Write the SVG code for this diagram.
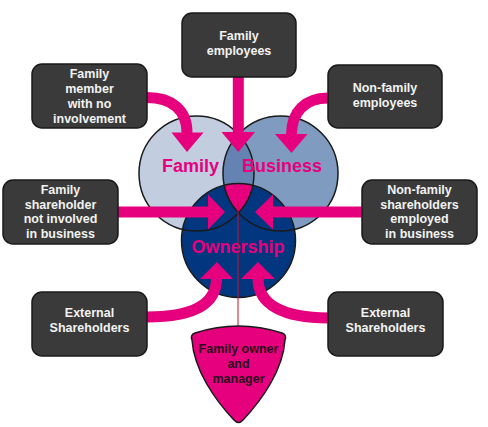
<svg xmlns="http://www.w3.org/2000/svg" width="488" height="427" viewBox="0 0 488 427">
<style>
.box{fill:#3a3a3a;stroke:#1a1a1a;stroke-width:1.5}
.bt{font-family:"Liberation Sans",Arial,sans-serif;font-weight:bold;font-size:12.5px;fill:#f2f2f2;text-anchor:middle}
.ring{fill:none;stroke:#1a1a1a;stroke-width:1.5}
.cl{font-family:"Liberation Sans",Arial,sans-serif;font-weight:bold;font-size:18px;fill:#e6007e;text-anchor:middle}
.band{fill:none;stroke:#e6007e;stroke-width:11}
.head{fill:#e6007e}
</style>
<defs>
<clipPath id="clipF"><circle cx="196.5" cy="173.5" r="57.5"/></clipPath>
<clipPath id="clipB"><circle cx="280.5" cy="173.5" r="57.5"/></clipPath>
</defs>
<rect width="488" height="427" fill="#ffffff"/>
<g id="venn">
<g id="family">
<circle cx="196.5" cy="173.5" r="57.5" fill="#c2cde0"/>
</g>
<g id="business">
<circle cx="280.5" cy="173.5" r="57.5" fill="#7f9bc0"/>
<g clip-path="url(#clipF)"><circle cx="280.5" cy="173.5" r="57.5" fill="#6482b2"/></g>
</g>
<g id="ownership">
<circle cx="238.5" cy="240.5" r="57" fill="#02377f"/>
<g clip-path="url(#clipF)"><g clip-path="url(#clipB)"><circle cx="238.5" cy="240.5" r="57" fill="#e6007e"/></g></g>
</g>
<circle class="ring" cx="196.5" cy="173.5" r="57.5"/>
<circle class="ring" cx="280.5" cy="173.5" r="57.5"/>
<circle class="ring" cx="238.5" cy="240.5" r="57"/>
<text class="cl" x="190.5" y="172">Family</text>
<text class="cl" x="282" y="172">Business</text>
<text class="cl" x="238" y="253.3">Ownership</text>
</g>
<g id="connectors">
<line x1="238" y1="203" x2="238" y2="327" stroke="#c8102e" stroke-width="1"/>
<path class="band" d="M147,97.5 C172,97.5 187,110 187,133"/>
<polygon class="head" points="171.5,132.5 203.5,132.5 187,152"/>
<path class="band" d="M238.3,77 L238.3,133"/>
<polygon class="head" points="221.5,132 255,132 238.3,152"/>
<path class="band" d="M328,98 C305,98 291.5,112 291.5,134.5"/>
<polygon class="head" points="275,134 307.5,134 291.5,153"/>
<path class="band" d="M118,212 L209,212"/>
<polygon class="head" points="208,194.5 208,229.5 225,212"/>
<path class="band" d="M362,212 L272,212"/>
<polygon class="head" points="273,194.5 273,229.5 255,212"/>
<path class="band" d="M147,317 C192,317 216.5,305 216.5,278.5"/>
<polygon class="head" points="200,279 233,279 217,262"/>
<path class="band" d="M328,318 C284,318 258,305 258,278.5"/>
<polygon class="head" points="241,279 275,279 258,262"/>
</g>
<g id="family-employees">
<rect class="box" x="182" y="13" width="114" height="64" rx="10"/>
<text class="bt" x="239" y="39.5">Family</text>
<text class="bt" x="239" y="54.5">employees</text>
</g>
<g id="family-member">
<rect class="box" x="32" y="64" width="115" height="64" rx="10"/>
<text class="bt" x="89.5" y="78">Family</text>
<text class="bt" x="89.5" y="93">member</text>
<text class="bt" x="89.5" y="108">with no</text>
<text class="bt" x="89.5" y="123">involvement</text>
</g>
<g id="family-shareholder">
<rect class="box" x="3" y="180" width="115" height="64" rx="10"/>
<text class="bt" x="60.5" y="194">Family</text>
<text class="bt" x="60.5" y="208.5">shareholder</text>
<text class="bt" x="60.5" y="223">not involved</text>
<text class="bt" x="60.5" y="238">in business</text>
</g>
<g id="nonfamily-employees">
<rect class="box" x="328" y="65" width="114" height="63" rx="10"/>
<text class="bt" x="385" y="92">Non-family</text>
<text class="bt" x="385" y="106.5">employees</text>
</g>
<g id="nonfamily-shareholders">
<rect class="box" x="362" y="180" width="115" height="64" rx="10"/>
<text class="bt" x="419.5" y="194">Non-family</text>
<text class="bt" x="419.5" y="208.5">shareholders</text>
<text class="bt" x="419.5" y="223">employed</text>
<text class="bt" x="419.5" y="238">in business</text>
</g>
<g id="external-left">
<rect class="box" x="32" y="292" width="115" height="64" rx="10"/>
<text class="bt" x="89.5" y="317">External</text>
<text class="bt" x="89.5" y="332">Shareholders</text>
</g>
<g id="external-right">
<rect class="box" x="328" y="292" width="115" height="64" rx="10"/>
<text class="bt" x="385.5" y="317">External</text>
<text class="bt" x="385.5" y="332">Shareholders</text>
</g>
<g id="family-owner-manager">
<path d="M195,333 Q238.5,319 282,333 Q287,335 285,340 C283,370 262,400 243,420 Q238.5,425 234,420 C215,400 194,370 192,340 Q190,335 195,333 Z" fill="#e6007e" stroke="#1a1a1a" stroke-width="1.5"/>
<text class="bt" x="238.5" y="353.3" style="fill:#2a0a1c">Family owner</text>
<text class="bt" x="238.5" y="368.3" style="fill:#2a0a1c">and</text>
<text class="bt" x="238.5" y="383.3" style="fill:#2a0a1c">manager</text>
</g>
</svg>
